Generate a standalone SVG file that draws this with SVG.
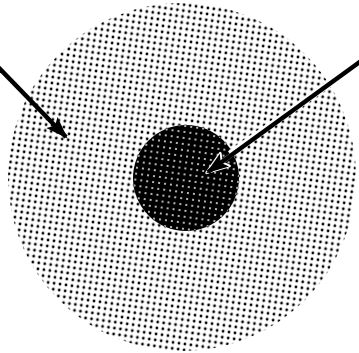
<svg xmlns="http://www.w3.org/2000/svg" width="359" height="353" viewBox="0 0 359 353">
<defs>
<pattern id="light" width="6" height="6" patternUnits="userSpaceOnUse" patternTransform="rotate(8)">
<rect width="6" height="6" fill="#fff"/>
<circle cx="3" cy="3" r="1.4" fill="#000"/>
</pattern>
<pattern id="dark" width="6" height="6" patternUnits="userSpaceOnUse" patternTransform="rotate(8)">
<rect width="6" height="6" fill="#000"/>
<circle cx="3" cy="3" r="0.95" fill="#fff"/>
</pattern>
<marker id="ah" viewBox="0 0 10 10" refX="9" refY="5" markerWidth="5" markerHeight="5" orient="auto" markerUnits="strokeWidth">
<path d="M0,1.5 L10,5 L0,8.5 L2,5 Z" fill="#000"/>
</marker>
<marker id="ahHalo" viewBox="0 0 10 10" refX="9" refY="5" markerWidth="5" markerHeight="5" orient="auto" markerUnits="strokeWidth" overflow="visible">
<path d="M0,1.5 L10,5 L0,8.5 L2,5 Z" fill="#fff" stroke="#fff" stroke-width="1.2" stroke-linejoin="round"/>
</marker>
</defs>
<style>
.arrow{stroke:#000;stroke-width:4.5;fill:none;marker-end:url(#ah)}
.halo{stroke:#fff;stroke-width:4.5;fill:none;marker-end:url(#ahHalo)}
.halobody{stroke:#fff;stroke-width:7;fill:none}
</style>
<rect width="359" height="353" fill="#fff"/>
<g id="outer">
<ellipse cx="182" cy="177" rx="174" ry="174" fill="url(#light)"/>
</g>
<g id="inner">
<circle cx="186" cy="178" r="53" fill="url(#dark)"/>
</g>
<g id="connectors">
<line x1="-2" y1="67" x2="66" y2="137" class="arrow"/>
<line x1="361" y1="61" x2="230" y2="154" class="halobody"/>
<line x1="361" y1="61" x2="208.5" y2="171.5" class="halo"/>
<line x1="361" y1="61" x2="208" y2="172" class="arrow"/>
</g>
</svg>
